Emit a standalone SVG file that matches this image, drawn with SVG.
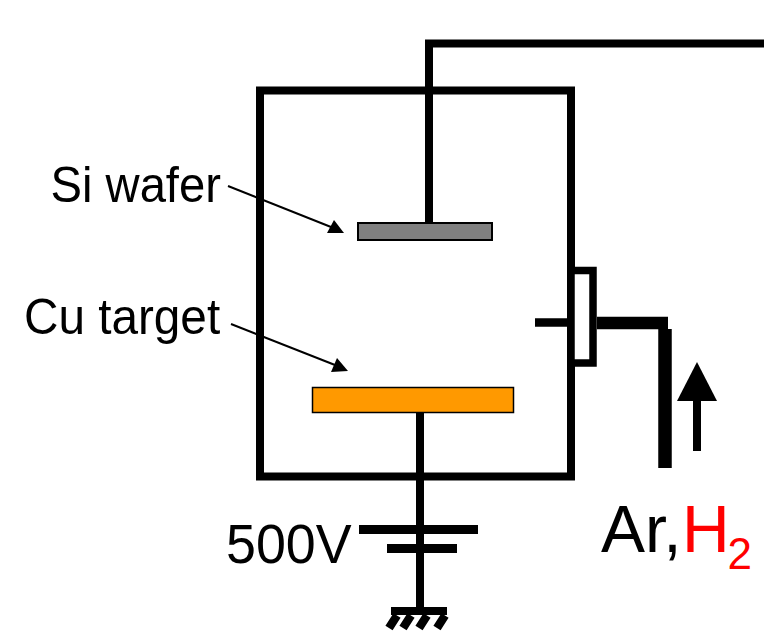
<svg xmlns="http://www.w3.org/2000/svg" width="764" height="631" viewBox="0 0 764 631">
<style>
.w{fill:none;stroke:#000;stroke-width:8}
.t{font-family:"Liberation Sans",Arial,sans-serif;fill:#000}
.thin{fill:none;stroke:#000;stroke-width:2;stroke-linejoin:miter}
</style>
<rect width="764" height="631" fill="#fff"/>
<g id="connectors">
<path class="w" d="M764 43.500H429V222"/>
<path class="w" d="M420 413V607"/>
<path d="M535 322.500H567" fill="none" stroke="#000" stroke-width="8.500"/>
<path d="M597 323H668" fill="none" stroke="#000" stroke-width="12.500"/>
<path d="M665 329V468" fill="none" stroke="#000" stroke-width="13.500"/>
<path d="M697 398V451" fill="none" stroke="#000" stroke-width="8"/>
<polygon points="697,362 717,401 677,401" fill="#000"/>
<path class="thin" d="M228 186L331 227"/>
<polygon points="344,233 327,233 334,220" fill="#000"/>
<path class="thin" d="M231 324L335 365"/>
<polygon points="348,371 331,372 337,358" fill="#000"/>
</g>
<g id="chamber"><rect x="260" y="90.500" width="311" height="386" class="w"/></g>
<g id="flange"><rect x="571" y="270.500" width="22" height="92.500" fill="#fff" stroke="#000" stroke-width="7.500"/></g>
<g id="si-wafer"><rect x="358" y="223" width="134" height="17" fill="#808080" stroke="#000" stroke-width="2"/></g>
<g id="cu-target"><rect x="312.500" y="387.500" width="201" height="25" fill="#f90" stroke="#000" stroke-width="1.500"/></g>
<g id="battery">
<rect x="359" y="525" width="119" height="9" fill="#000"/>
<rect x="387" y="544" width="70" height="9" fill="#000"/>
</g>
<g id="ground">
<rect x="391" y="607" width="56" height="8" fill="#000"/>
<path d="M397 615.500L389 628M411 615.500L403 628M427 615.500L419 628M445 615.500L437 628" fill="none" stroke="#000" stroke-width="8.500"/>
</g>
<g id="labels">
<text class="t" transform="translate(50.500 201.500) scale(1 1.05)" font-size="47.200">Si wafer</text>
<text class="t" transform="translate(24 333.500) scale(1 1.05)" font-size="47.700">Cu target</text>
<text class="t" transform="translate(226 563) scale(1 1.02)" font-size="53.800">500V</text>
<text class="t" x="601" y="552" font-size="66">Ar,<tspan fill="#f00" x="682">H</tspan><tspan fill="#f00" font-size="44" x="727.500" y="569">2</tspan></text>
</g>
</svg>
